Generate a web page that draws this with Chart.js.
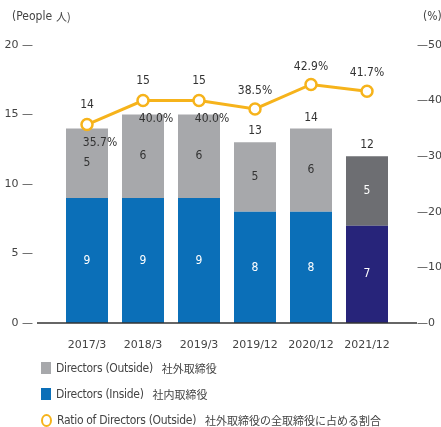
<!DOCTYPE html>
<html>
<head>
<meta charset="utf-8">
<script src="https://cdn.jsdelivr.net/npm/chart.js@4"></script>
<style>
  body { margin: 0; background: #fff; }
  .wrap { position: relative; width: 441px; height: 427px; overflow: hidden; }
  .legend { position: absolute; left: 41px; top: 355px; font-family: "DejaVu Sans", sans-serif; font-stretch: condensed; font-size: 12px; letter-spacing: -0.3px; color: #444; }
  .legend div { height: 26px; display: flex; align-items: center; white-space: nowrap; }
  .legend .sw { width: 10px; height: 12px; margin-right: 5px; }
  .legend .ring { width: 7px; height: 9px; border: 2.5px solid #f6b31b; border-radius: 50%; margin-right: 5px; }
  .legend .jp { font-family: "Noto Sans CJK JP", sans-serif; font-size: 11px; letter-spacing: 0; margin-left: 9px; }
</style>
</head>
<body>
<div class="wrap">
  <canvas id="board" width="441" height="427"></canvas>
  <div class="legend">
    <div><span class="sw" style="background:#a7a8ab"></span>Directors (Outside)<span class="jp">社外取締役</span></div>
    <div><span class="sw" style="background:#0b6fb8"></span>Directors (Inside)<span class="jp">社内取締役</span></div>
    <div><span class="ring"></span>Ratio of Directors (Outside)<span class="jp">社外取締役の全取締役に占める割合</span></div>
  </div>
</div>
<script>
const periods = ['2017/3', '2018/3', '2019/3', '2019/12', '2020/12', '2021/12'];
const outsideDirectors = [5, 6, 6, 5, 6, 5];
const insideDirectors = [9, 9, 9, 8, 8, 7];
const outsideRatio = [35.7, 40.0, 40.0, 38.5, 42.9, 41.7];
const peopleTicks = [0, 5, 10, 15, 20];
const ratioTicks = [0, 10, 20, 30, 40, 50];

const FONT = '"DejaVu Sans", sans-serif';
const TEXT = '#444';
// font-stretch keyword goes in the style slot of the font shorthand
const NARROW = 'condensed';

// latest period uses darker shades
const insideColors = periods.map((p, i) => i === periods.length - 1 ? '#27247a' : '#0b6fb8');
const outsideColors = periods.map((p, i) => i === periods.length - 1 ? '#6d6e72' : '#a7a8ab');

const labelsPlugin = {
  id: 'boardLabels',
  afterDatasetsDraw(chart) {
    const ctx = chart.ctx;
    const yScale = chart.scales.y;
    const zeroY = yScale.getPixelForValue(0);
    const inside = chart.getDatasetMeta(0).data;
    const outside = chart.getDatasetMeta(1).data;
    const ratio = chart.getDatasetMeta(2).data;

    ctx.save();
    // baseline runs past the plot area on both sides
    ctx.strokeStyle = '#333';
    ctx.lineWidth = 1.5;
    ctx.beginPath();
    ctx.moveTo(37, zeroY);
    ctx.lineTo(417, zeroY);
    ctx.stroke();

    ctx.textAlign = 'center';
    ctx.textBaseline = 'middle';
    ctx.font = NARROW + ' 12px ' + FONT;
    periods.forEach((p, i) => {
      const inBar = inside[i];
      const outBar = outside[i];
      const last = i === periods.length - 1;
      ctx.fillStyle = '#fff';
      ctx.fillText(insideDirectors[i], inBar.x, (inBar.y + inBar.base) / 2);
      ctx.fillStyle = last ? '#fff' : '#333';
      ctx.fillText(outsideDirectors[i], outBar.x, (outBar.y + outBar.base) / 2);

      const pt = ratio[i];
      const total = insideDirectors[i] + outsideDirectors[i];
      let totalY, pctX, pctY;
      if (outBar.y - pt.y < 25) {
        totalY = pt.y - 20;
        pctX = pt.x + 13;
        pctY = pt.y + 18;
      } else {
        totalY = outBar.y - 11;
        pctX = pt.x;
        pctY = pt.y - 18;
      }
      ctx.fillStyle = '#333';
      ctx.fillText(total, outBar.x, totalY);
      ctx.fillText(outsideRatio[i].toFixed(1) + '%', pctX, pctY);
    });

    // axis unit captions
    ctx.textAlign = 'left';
    ctx.fillStyle = TEXT;
    ctx.font = NARROW + ' 12px ' + FONT;
    ctx.fillText('(People', 12, 17);
    const w = ctx.measureText('(People').width;
    ctx.font = '11px "Noto Sans CJK JP", sans-serif';
    ctx.fillText('人)', 12 + w + 4, 17);
    ctx.font = NARROW + ' 12px ' + FONT;
    ctx.fillText('(%)', 423, 17);
    ctx.restore();
  }
};

new Chart(document.getElementById('board'), {
  type: 'bar',
  data: {
    labels: periods,
    datasets: [
      {
        label: 'Directors (Inside)',
        data: insideDirectors,
        backgroundColor: insideColors,
        stack: 'people',
        barPercentage: 0.75,
        categoryPercentage: 1,
        order: 2
      },
      {
        label: 'Directors (Outside)',
        data: outsideDirectors,
        backgroundColor: outsideColors,
        stack: 'people',
        barPercentage: 0.75,
        categoryPercentage: 1,
        order: 2
      },
      {
        type: 'line',
        label: 'Ratio of Directors (Outside)',
        data: outsideRatio,
        yAxisID: 'y1',
        borderColor: '#f6b31b',
        borderWidth: 3,
        pointRadius: 5.5,
        pointBorderWidth: 2.5,
        pointBackgroundColor: '#fff',
        pointBorderColor: '#f6b31b',
        order: 1
      }
    ]
  },
  options: {
    responsive: false,
    animation: false,
    layout: { padding: { top: 45, left: 0, right: 0, bottom: 0 } },
    plugins: {
      legend: { display: false },
      tooltip: { enabled: false }
    },
    scales: {
      x: {
        stacked: true,
        grid: { display: false, drawTicks: false },
        border: { display: false },
        ticks: { color: TEXT, font: { family: FONT, size: 11, style: NARROW }, padding: 16 },
        afterFit(scale) { scale.height = 104; }
      },
      y: {
        stacked: true,
        min: 0,
        max: 20,
        afterBuildTicks(scale) { scale.ticks = peopleTicks.map(v => ({ value: v })); },
        grid: { display: false, drawTicks: false },
        border: { display: false },
        ticks: {
          color: TEXT,
          font: { family: FONT, size: 11, style: NARROW },
          padding: 26,
          callback: v => v + ' —'
        },
        afterFit(scale) { scale.width = 59; }
      },
      y1: {
        position: 'right',
        min: 0,
        max: 50,
        afterBuildTicks(scale) { scale.ticks = ratioTicks.map(v => ({ value: v })); },
        grid: { display: false, drawTicks: false },
        border: { display: false },
        ticks: {
          color: TEXT,
          font: { family: FONT, size: 11, style: NARROW },
          padding: 22,
          callback: v => '—' + v
        },
        afterFit(scale) { scale.width = 46; }
      }
    }
  },
  plugins: [labelsPlugin]
});
</script>
</body>
</html>
